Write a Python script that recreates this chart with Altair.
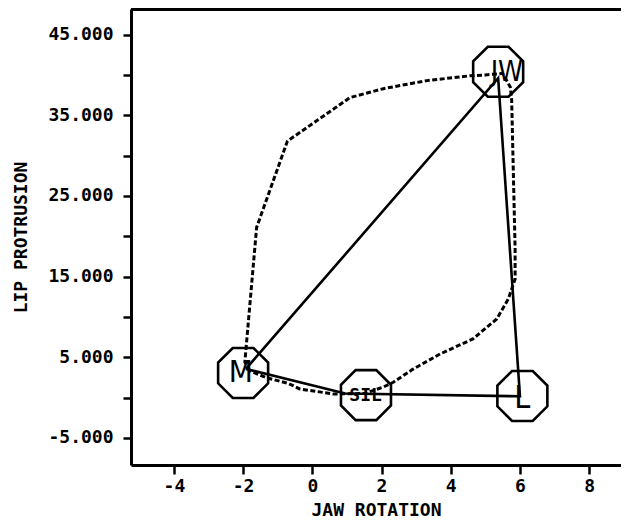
import altair as alt
import pandas as pd

# Octagon markers and their labels
marker_names = ["M", "SIL", "L", "JW"]
marker_x = [-2.0, 1.55, 6.07, 5.37]
marker_y = [3.05, 0.3, 0.2, 40.4]
label_x = [-2.07, 1.54, 6.07, 5.62]
label_y = [3.05, 0.24, -0.1, 40.3]
label_size = [31, 18, 32, 28]

# Solid polygon M -> JW -> L -> SIL -> M
solid_x = [-1.92, 5.37, 6.0, 0.95, -1.92]
solid_y = [3.55, 39.6, 0.16, 0.5, 3.55]

# Dashed loop
dash_x = [-1.8, -1.95, -1.61, -0.72, 0.27, 1.09, 2.05, 3.31, 4.56, 5.0, 5.5, 5.72,
          5.76, 5.86, 5.86, 5.66, 5.33, 4.64, 3.69, 2.9, 2.34, 2.05, 1.5, 0.6,
          -0.36, -0.69, -1.32, -1.8]
dash_y = [3.3, 4.4, 21.1, 31.8, 34.75, 37.2, 38.3, 39.3, 39.9, 40.0, 40.2, 38.5,
          37.0, 18.4, 14.7, 12.2, 9.75, 7.27, 5.4, 3.5, 1.9, 1.3, 0.5, 0.45,
          1.07, 1.75, 2.45, 3.3]

x_ticks = [-4, -2, 0, 2, 4, 6, 8]
y_ticks = [-5, 0, 5, 10, 15, 20, 25, 30, 35, 40, 45]
x_domain = [-5.24, 8.92]
y_domain = [-8.36, 48.18]

W, H = 490, 456
FONT = "DejaVu Sans Mono"

markers = pd.DataFrame({"name": marker_names, "x": marker_x, "y": marker_y})
labels = pd.DataFrame({"name": marker_names, "x": label_x, "y": label_y, "fs": label_size})
solid = pd.DataFrame({"x": solid_x, "y": solid_y, "o": list(range(len(solid_x)))})
dashed = pd.DataFrame({"x": dash_x, "y": dash_y, "o": list(range(len(dash_x)))})

x_axis = alt.Axis(
    values=x_ticks,
    labelExpr="(datum.value < 0 ? '-' : '') + format(abs(datum.value), 'd')",
    title="JAW ROTATION",
    grid=False, tickSize=9, tickWidth=2.5, tickColor="black",
    domainWidth=3, domainColor="black",
    labelPadding=3, labelFont=FONT, labelFontSize=18, labelFontWeight="bold",
    labelColor="black", labelOverlap=False, labelFlush=False,
    titleFont=FONT, titleFontSize=18, titleFontWeight="bold", titleColor="black",
    titlePadding=6,
)
y_axis = alt.Axis(
    values=y_ticks,
    labelExpr="datum.value % 10 == 0 ? '' : (datum.value < 0 ? '-' : '') + format(abs(datum.value), '.3f')",
    title="LIP PROTRUSION",
    grid=False, tickSize=8, tickWidth=2.5, tickColor="black",
    domainWidth=3, domainColor="black",
    labelPadding=10, labelFont=FONT, labelFontSize=18, labelFontWeight="bold",
    labelColor="black", labelOverlap=False, labelFlush=False,
    titleFont=FONT, titleFontSize=18, titleFontWeight="bold", titleColor="black",
    titlePadding=17,
)

X = alt.X("x:Q", scale=alt.Scale(domain=x_domain, nice=False, zero=False), axis=x_axis)
Y = alt.Y("y:Q", scale=alt.Scale(domain=y_domain, nice=False, zero=False), axis=y_axis)

dash_layer = alt.Chart(dashed).mark_line(
    color="black", strokeWidth=3, strokeDash=[5, 2.5]
).encode(x=X, y=Y, order="o:Q")

solid_layer = alt.Chart(solid).mark_line(
    color="black", strokeWidth=2.6
).encode(x=X, y=Y, order="o:Q")

octagon = "M-0.414,-1L0.414,-1L1,-0.414L1,0.414L0.414,1L-0.414,1L-1,0.414L-1,-0.414Z"
marker_layer = alt.Chart(markers).mark_point(
    shape=octagon, size=2500, filled=False, stroke="black", strokeWidth=2.6, opacity=1
).encode(x=X, y=Y)

text_layer = alt.Chart(labels).mark_text(
    font="DejaVu Sans Condensed", color="black", baseline="middle", align="center"
).encode(x=X, y=Y, text="name:N", size=alt.Size("fs:Q", scale=None, legend=None)
).transform_filter("datum.name != 'SIL'")

sil_layer = alt.Chart(labels).mark_text(
    font="DejaVu Sans Mono", fontWeight="bold", color="black", baseline="middle", align="center"
).encode(x=X, y=Y, text="name:N", size=alt.Size("fs:Q", scale=None, legend=None)
).transform_filter("datum.name == 'SIL'")

top_frame = alt.Chart(markers).mark_rule(color="black", strokeWidth=3.5).encode(
    x=alt.value(0), x2=alt.value(W), y=alt.value(0)
)

chart = alt.layer(dash_layer, solid_layer, marker_layer, text_layer, sil_layer, top_frame).properties(
    width=W, height=H,
    autosize=alt.AutoSizeParams(type="none"),
    padding={"left": 123, "top": 1, "right": 0, "bottom": 54},
).configure_view(stroke=None)

chart.save("out.html", embed_options={"renderer": "svg", "actions": False})
